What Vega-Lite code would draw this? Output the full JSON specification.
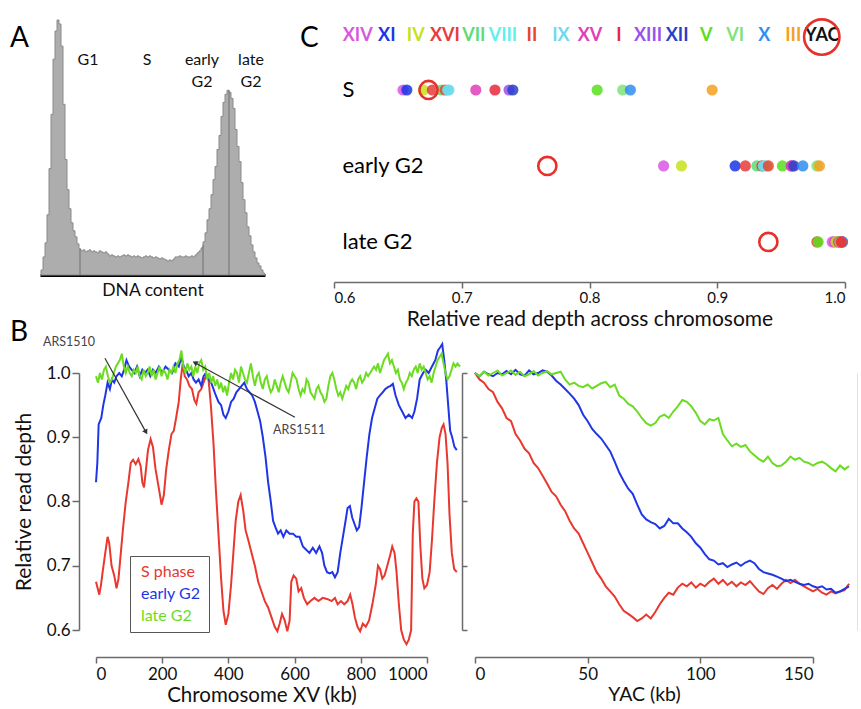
{
"$schema": "https://vega.github.io/schema/vega-lite/v6.json",
"background": "white",
"padding": {"left": 10, "top": 14, "right": 0, "bottom": 0},
"config": {
  "view": {"stroke": null},
  "font": "Lato",
  "axis": {"grid": false, "labelFont": "Lato", "titleFont": "Lato", "labelColor": "#111", "titleColor": "#111", "titleFontWeight": "normal", "domainColor": "#6a6a6a", "tickColor": "#6a6a6a", "domainWidth": 1.5, "tickWidth": 1.5},
  "title": {"font": "Lato", "fontWeight": "normal", "color": "#000"},
  "text": {"font": "Lato"}
},
"datasets": {
  "hist": [
    {"ch":0,"n":0},{"ch":2,"n":5},{"ch":4,"n":18},{"ch":6,"n":32},{"ch":8,"n":60},{"ch":10,"n":106},{"ch":12,"n":160},{"ch":14,"n":215},{"ch":16,"n":243},{"ch":18,"n":254},{"ch":20,"n":250},{"ch":22,"n":228},{"ch":24,"n":170},{"ch":26,"n":115},{"ch":28,"n":85},{"ch":30,"n":66},{"ch":32,"n":52},{"ch":34,"n":44},{"ch":36,"n":38},{"ch":38,"n":31},{"ch":40,"n":26},{"ch":42,"n":24},{"ch":44,"n":25},{"ch":46,"n":23},{"ch":48,"n":24},{"ch":50,"n":25},{"ch":52,"n":23},{"ch":54,"n":24},{"ch":56,"n":23},{"ch":58,"n":22},{"ch":60,"n":24},{"ch":62,"n":23},{"ch":64,"n":22},{"ch":66,"n":23},{"ch":68,"n":21},{"ch":70,"n":19},{"ch":72,"n":20},{"ch":74,"n":19},{"ch":76,"n":18},{"ch":78,"n":19},{"ch":80,"n":18},{"ch":82,"n":19},{"ch":84,"n":20},{"ch":86,"n":19},{"ch":88,"n":20},{"ch":90,"n":19},{"ch":92,"n":18},{"ch":94,"n":19},{"ch":96,"n":18},{"ch":98,"n":19},{"ch":100,"n":18},{"ch":102,"n":17},{"ch":104,"n":18},{"ch":106,"n":19},{"ch":108,"n":18},{"ch":110,"n":19},{"ch":112,"n":18},{"ch":114,"n":17},{"ch":116,"n":18},{"ch":118,"n":17},{"ch":120,"n":16},{"ch":122,"n":17},{"ch":124,"n":16},{"ch":126,"n":15},{"ch":128,"n":14},{"ch":130,"n":15},{"ch":132,"n":14},{"ch":134,"n":16},{"ch":136,"n":18},{"ch":138,"n":18},{"ch":140,"n":19},{"ch":142,"n":18},{"ch":144,"n":18},{"ch":146,"n":19},{"ch":148,"n":18},{"ch":150,"n":18},{"ch":152,"n":19},{"ch":154,"n":18},{"ch":156,"n":20},{"ch":158,"n":22},{"ch":160,"n":24},{"ch":162,"n":27},{"ch":164,"n":33},{"ch":166,"n":42},{"ch":168,"n":55},{"ch":170,"n":66},{"ch":172,"n":80},{"ch":174,"n":95},{"ch":176,"n":108},{"ch":178,"n":125},{"ch":180,"n":139},{"ch":182,"n":158},{"ch":184,"n":172},{"ch":186,"n":180},{"ch":188,"n":184},{"ch":190,"n":182},{"ch":192,"n":176},{"ch":194,"n":166},{"ch":196,"n":145},{"ch":198,"n":128},{"ch":200,"n":113},{"ch":202,"n":92},{"ch":204,"n":75},{"ch":206,"n":62},{"ch":208,"n":48},{"ch":210,"n":39},{"ch":212,"n":30},{"ch":214,"n":23},{"ch":216,"n":17},{"ch":218,"n":12},{"ch":220,"n":9},{"ch":222,"n":5},{"ch":224,"n":2},{"ch":225,"n":0}
  ],
  "gates": [{"ch":40,"n":26},{"ch":163,"n":30},{"ch":189,"n":184}],
  "phases": [
    {"label":"G1","ch":48,"n":222},{"label":"S","ch":107,"n":222},{"label":"early\nG2","ch":162,"n":222},{"label":"late\nG2","ch":211,"n":222}
  ],
  "dots": [
    {"row":"S","chrom":"XIV","v":0.654},{"row":"S","chrom":"XI","v":0.657},{"row":"S","chrom":"IV","v":0.670},{"row":"S","chrom":"XVI","v":0.677},{"row":"S","chrom":"VII","v":0.684},{"row":"S","chrom":"II","v":0.687},{"row":"S","chrom":"VIII","v":0.689},{"row":"S","chrom":"IX","v":0.690},{"row":"S","chrom":"XV","v":0.711},{"row":"S","chrom":"I","v":0.726},{"row":"S","chrom":"XIII","v":0.737},{"row":"S","chrom":"XII","v":0.740},{"row":"S","chrom":"V","v":0.806},{"row":"S","chrom":"VI","v":0.826},{"row":"S","chrom":"X","v":0.832},{"row":"S","chrom":"III","v":0.896},
    {"row":"early G2","chrom":"XIV","v":0.858},{"row":"early G2","chrom":"IV","v":0.872},{"row":"early G2","chrom":"XI","v":0.914},{"row":"early G2","chrom":"XVI","v":0.922},{"row":"early G2","chrom":"VII","v":0.931},{"row":"early G2","chrom":"I","v":0.935},{"row":"early G2","chrom":"VIII","v":0.936},{"row":"early G2","chrom":"IX","v":0.938},{"row":"early G2","chrom":"II","v":0.940},{"row":"early G2","chrom":"V","v":0.951},{"row":"early G2","chrom":"XIII","v":0.958},{"row":"early G2","chrom":"XV","v":0.958},{"row":"early G2","chrom":"XII","v":0.960},{"row":"early G2","chrom":"X","v":0.967},{"row":"early G2","chrom":"VI","v":0.978},{"row":"early G2","chrom":"III","v":0.980},
    {"row":"late G2","chrom":"XVI","v":0.978},{"row":"late G2","chrom":"V","v":0.979},{"row":"late G2","chrom":"XIV","v":0.990},{"row":"late G2","chrom":"XV","v":0.992},{"row":"late G2","chrom":"IV","v":0.993},{"row":"late G2","chrom":"VII","v":0.995},{"row":"late G2","chrom":"VIII","v":0.996},{"row":"late G2","chrom":"II","v":0.995},{"row":"late G2","chrom":"IX","v":0.997},{"row":"late G2","chrom":"XI","v":0.997},{"row":"late G2","chrom":"XIII","v":0.996},{"row":"late G2","chrom":"XII","v":0.998},{"row":"late G2","chrom":"VI","v":0.996},{"row":"late G2","chrom":"X","v":0.998},{"row":"late G2","chrom":"III","v":0.997},{"row":"late G2","chrom":"I","v":0.997}
  ],
  "yacdots": [{"row":"S","chrom":"YAC","v":0.674},{"row":"early G2","chrom":"YAC","v":0.767},{"row":"late G2","chrom":"YAC","v":0.940}],
  "yachead": [{"row":"header","chrom":"YAC"}],
  "arrows": [
    {"label":"ARS1510","k":27,"d":1.023,"k2":151,"d2":0.908},
    {"label":"ARS1511","k":601,"d":0.931,"k2":299,"d2":1.016}
  ],
  "ars": [{"label":"ARS1510","k":-160,"d":1.048},{"label":"ARS1511","k":535,"d":0.911}],
  "left": [
    {"s":"S phase","k":0,"d":0.675},{"s":"S phase","k":5,"d":0.665},{"s":"S phase","k":10,"d":0.655},{"s":"S phase","k":15,"d":0.67},{"s":"S phase","k":20,"d":0.69},{"s":"S phase","k":28,"d":0.72},{"s":"S phase","k":35,"d":0.745},{"s":"S phase","k":40,"d":0.735},{"s":"S phase","k":47,"d":0.70},{"s":"S phase","k":55,"d":0.685},{"s":"S phase","k":62,"d":0.665},{"s":"S phase","k":68,"d":0.68},{"s":"S phase","k":75,"d":0.72},{"s":"S phase","k":82,"d":0.76},{"s":"S phase","k":90,"d":0.80},{"s":"S phase","k":98,"d":0.83},{"s":"S phase","k":105,"d":0.86},{"s":"S phase","k":112,"d":0.865},{"s":"S phase","k":120,"d":0.858},{"s":"S phase","k":128,"d":0.866},{"s":"S phase","k":135,"d":0.855},{"s":"S phase","k":140,"d":0.83},{"s":"S phase","k":145,"d":0.822},{"s":"S phase","k":150,"d":0.845},{"s":"S phase","k":157,"d":0.88},{"s":"S phase","k":165,"d":0.897},{"s":"S phase","k":172,"d":0.885},{"s":"S phase","k":180,"d":0.85},{"s":"S phase","k":190,"d":0.82},{"s":"S phase","k":198,"d":0.795},{"s":"S phase","k":205,"d":0.81},{"s":"S phase","k":212,"d":0.85},{"s":"S phase","k":220,"d":0.88},{"s":"S phase","k":228,"d":0.905},{"s":"S phase","k":235,"d":0.91},{"s":"S phase","k":242,"d":0.93},{"s":"S phase","k":250,"d":0.955},{"s":"S phase","k":256,"d":0.99},{"s":"S phase","k":262,"d":1.015},{"s":"S phase","k":268,"d":0.995},{"s":"S phase","k":275,"d":0.99},{"s":"S phase","k":282,"d":0.98},{"s":"S phase","k":290,"d":0.975},{"s":"S phase","k":297,"d":0.958},{"s":"S phase","k":303,"d":0.952},{"s":"S phase","k":310,"d":0.97},{"s":"S phase","k":318,"d":0.975},{"s":"S phase","k":325,"d":0.985},{"s":"S phase","k":332,"d":0.995},{"s":"S phase","k":340,"d":0.99},{"s":"S phase","k":347,"d":0.95},{"s":"S phase","k":355,"d":0.89},{"s":"S phase","k":362,"d":0.82},{"s":"S phase","k":370,"d":0.75},{"s":"S phase","k":378,"d":0.68},{"s":"S phase","k":385,"d":0.63},{"s":"S phase","k":392,"d":0.608},{"s":"S phase","k":400,"d":0.625},{"s":"S phase","k":408,"d":0.67},{"s":"S phase","k":415,"d":0.72},{"s":"S phase","k":422,"d":0.77},{"s":"S phase","k":430,"d":0.80},{"s":"S phase","k":437,"d":0.81},{"s":"S phase","k":445,"d":0.785},{"s":"S phase","k":452,"d":0.755},{"s":"S phase","k":460,"d":0.74},{"s":"S phase","k":470,"d":0.72},{"s":"S phase","k":480,"d":0.70},{"s":"S phase","k":490,"d":0.675},{"s":"S phase","k":500,"d":0.66},{"s":"S phase","k":510,"d":0.645},{"s":"S phase","k":520,"d":0.635},{"s":"S phase","k":530,"d":0.62},{"s":"S phase","k":540,"d":0.605},{"s":"S phase","k":548,"d":0.598},{"s":"S phase","k":555,"d":0.61},{"s":"S phase","k":562,"d":0.625},{"s":"S phase","k":570,"d":0.615},{"s":"S phase","k":578,"d":0.598},{"s":"S phase","k":585,"d":0.615},{"s":"S phase","k":590,"d":0.675},{"s":"S phase","k":597,"d":0.685},{"s":"S phase","k":605,"d":0.68},{"s":"S phase","k":612,"d":0.66},{"s":"S phase","k":620,"d":0.665},{"s":"S phase","k":628,"d":0.65},{"s":"S phase","k":638,"d":0.64},{"s":"S phase","k":648,"d":0.645},{"s":"S phase","k":660,"d":0.65},{"s":"S phase","k":672,"d":0.645},{"s":"S phase","k":685,"d":0.65},{"s":"S phase","k":700,"d":0.648},{"s":"S phase","k":712,"d":0.645},{"s":"S phase","k":722,"d":0.65},{"s":"S phase","k":730,"d":0.64},{"s":"S phase","k":740,"d":0.645},{"s":"S phase","k":750,"d":0.64},{"s":"S phase","k":760,"d":0.645},{"s":"S phase","k":768,"d":0.655},{"s":"S phase","k":775,"d":0.64},{"s":"S phase","k":782,"d":0.62},{"s":"S phase","k":790,"d":0.605},{"s":"S phase","k":798,"d":0.598},{"s":"S phase","k":806,"d":0.61},{"s":"S phase","k":815,"d":0.605},{"s":"S phase","k":825,"d":0.615},{"s":"S phase","k":835,"d":0.64},{"s":"S phase","k":845,"d":0.67},{"s":"S phase","k":852,"d":0.70},{"s":"S phase","k":858,"d":0.695},{"s":"S phase","k":865,"d":0.68},{"s":"S phase","k":872,"d":0.685},{"s":"S phase","k":880,"d":0.70},{"s":"S phase","k":888,"d":0.715},{"s":"S phase","k":895,"d":0.73},{"s":"S phase","k":902,"d":0.72},{"s":"S phase","k":908,"d":0.69},{"s":"S phase","k":915,"d":0.64},{"s":"S phase","k":922,"d":0.60},{"s":"S phase","k":930,"d":0.585},{"s":"S phase","k":938,"d":0.578},{"s":"S phase","k":945,"d":0.585},{"s":"S phase","k":952,"d":0.60},{"s":"S phase","k":957,"d":0.75},{"s":"S phase","k":962,"d":0.80},{"s":"S phase","k":968,"d":0.805},{"s":"S phase","k":974,"d":0.80},{"s":"S phase","k":980,"d":0.73},{"s":"S phase","k":986,"d":0.68},{"s":"S phase","k":992,"d":0.665},{"s":"S phase","k":1000,"d":0.67},{"s":"S phase","k":1008,"d":0.69},{"s":"S phase","k":1015,"d":0.74},{"s":"S phase","k":1022,"d":0.80},{"s":"S phase","k":1030,"d":0.86},{"s":"S phase","k":1038,"d":0.90},{"s":"S phase","k":1045,"d":0.915},{"s":"S phase","k":1050,"d":0.92},{"s":"S phase","k":1056,"d":0.905},{"s":"S phase","k":1062,"d":0.86},{"s":"S phase","k":1068,"d":0.78},{"s":"S phase","k":1075,"d":0.72},{"s":"S phase","k":1082,"d":0.695},{"s":"S phase","k":1090,"d":0.69},
    {"s":"early G2","k":0,"d":0.83},{"s":"early G2","k":4,"d":0.86},{"s":"early G2","k":8,"d":0.92},{"s":"early G2","k":12,"d":0.925},{"s":"early G2","k":16,"d":0.93},{"s":"early G2","k":22,"d":0.95},{"s":"early G2","k":28,"d":0.965},{"s":"early G2","k":35,"d":0.985},{"s":"early G2","k":42,"d":0.975},{"s":"early G2","k":48,"d":0.99},{"s":"early G2","k":55,"d":0.985},{"s":"early G2","k":62,"d":0.995},{"s":"early G2","k":70,"d":1.0},{"s":"early G2","k":78,"d":0.995},{"s":"early G2","k":85,"d":1.005},{"s":"early G2","k":92,"d":1.02},{"s":"early G2","k":100,"d":1.01},{"s":"early G2","k":108,"d":1.005},{"s":"early G2","k":116,"d":1.0},{"s":"early G2","k":124,"d":1.01},{"s":"early G2","k":132,"d":0.995},{"s":"early G2","k":140,"d":1.005},{"s":"early G2","k":148,"d":1.0},{"s":"early G2","k":156,"d":1.005},{"s":"early G2","k":164,"d":0.995},{"s":"early G2","k":172,"d":1.005},{"s":"early G2","k":180,"d":1.0},{"s":"early G2","k":190,"d":1.01},{"s":"early G2","k":200,"d":1.0},{"s":"early G2","k":210,"d":1.01},{"s":"early G2","k":220,"d":1.005},{"s":"early G2","k":230,"d":1.0},{"s":"early G2","k":240,"d":1.015},{"s":"early G2","k":250,"d":1.01},{"s":"early G2","k":258,"d":1.025},{"s":"early G2","k":265,"d":1.01},{"s":"early G2","k":272,"d":1.005},{"s":"early G2","k":280,"d":0.995},{"s":"early G2","k":288,"d":1.0},{"s":"early G2","k":295,"d":0.99},{"s":"early G2","k":302,"d":0.985},{"s":"early G2","k":310,"d":0.99},{"s":"early G2","k":318,"d":0.98},{"s":"early G2","k":325,"d":0.995},{"s":"early G2","k":332,"d":1.0},{"s":"early G2","k":340,"d":0.99},{"s":"early G2","k":348,"d":0.985},{"s":"early G2","k":355,"d":0.975},{"s":"early G2","k":362,"d":0.965},{"s":"early G2","k":370,"d":0.955},{"s":"early G2","k":378,"d":0.95},{"s":"early G2","k":385,"d":0.935},{"s":"early G2","k":392,"d":0.93},{"s":"early G2","k":400,"d":0.94},{"s":"early G2","k":408,"d":0.955},{"s":"early G2","k":416,"d":0.96},{"s":"early G2","k":424,"d":0.97},{"s":"early G2","k":432,"d":0.975},{"s":"early G2","k":440,"d":0.98},{"s":"early G2","k":448,"d":0.985},{"s":"early G2","k":456,"d":0.975},{"s":"early G2","k":464,"d":0.97},{"s":"early G2","k":472,"d":0.965},{"s":"early G2","k":480,"d":0.955},{"s":"early G2","k":488,"d":0.94},{"s":"early G2","k":496,"d":0.925},{"s":"early G2","k":504,"d":0.9},{"s":"early G2","k":512,"d":0.87},{"s":"early G2","k":520,"d":0.83},{"s":"early G2","k":528,"d":0.8},{"s":"early G2","k":535,"d":0.77},{"s":"early G2","k":542,"d":0.76},{"s":"early G2","k":550,"d":0.75},{"s":"early G2","k":558,"d":0.755},{"s":"early G2","k":566,"d":0.745},{"s":"early G2","k":575,"d":0.755},{"s":"early G2","k":585,"d":0.75},{"s":"early G2","k":595,"d":0.75},{"s":"early G2","k":605,"d":0.745},{"s":"early G2","k":615,"d":0.745},{"s":"early G2","k":625,"d":0.73},{"s":"early G2","k":635,"d":0.725},{"s":"early G2","k":645,"d":0.72},{"s":"early G2","k":655,"d":0.728},{"s":"early G2","k":665,"d":0.72},{"s":"early G2","k":675,"d":0.73},{"s":"early G2","k":683,"d":0.72},{"s":"early G2","k":690,"d":0.70},{"s":"early G2","k":698,"d":0.69},{"s":"early G2","k":706,"d":0.688},{"s":"early G2","k":714,"d":0.69},{"s":"early G2","k":722,"d":0.682},{"s":"early G2","k":730,"d":0.69},{"s":"early G2","k":738,"d":0.72},{"s":"early G2","k":746,"d":0.745},{"s":"early G2","k":754,"d":0.77},{"s":"early G2","k":760,"d":0.79},{"s":"early G2","k":767,"d":0.793},{"s":"early G2","k":774,"d":0.775},{"s":"early G2","k":781,"d":0.765},{"s":"early G2","k":788,"d":0.755},{"s":"early G2","k":795,"d":0.76},{"s":"early G2","k":802,"d":0.79},{"s":"early G2","k":810,"d":0.83},{"s":"early G2","k":818,"d":0.87},{"s":"early G2","k":826,"d":0.905},{"s":"early G2","k":834,"d":0.93},{"s":"early G2","k":842,"d":0.945},{"s":"early G2","k":850,"d":0.96},{"s":"early G2","k":858,"d":0.965},{"s":"early G2","k":866,"d":0.97},{"s":"early G2","k":874,"d":0.975},{"s":"early G2","k":882,"d":0.978},{"s":"early G2","k":890,"d":0.98},{"s":"early G2","k":897,"d":0.983},{"s":"early G2","k":905,"d":0.965},{"s":"early G2","k":915,"d":0.95},{"s":"early G2","k":925,"d":0.94},{"s":"early G2","k":935,"d":0.93},{"s":"early G2","k":945,"d":0.935},{"s":"early G2","k":955,"d":0.93},{"s":"early G2","k":962,"d":0.94},{"s":"early G2","k":970,"d":0.96},{"s":"early G2","k":978,"d":0.99},{"s":"early G2","k":988,"d":1.0},{"s":"early G2","k":996,"d":1.005},{"s":"early G2","k":1005,"d":1.0},{"s":"early G2","k":1015,"d":1.01},{"s":"early G2","k":1025,"d":1.02},{"s":"early G2","k":1033,"d":1.035},{"s":"early G2","k":1040,"d":1.04},{"s":"early G2","k":1046,"d":1.045},{"s":"early G2","k":1052,"d":1.02},{"s":"early G2","k":1058,"d":0.99},{"s":"early G2","k":1064,"d":0.95},{"s":"early G2","k":1070,"d":0.91},{"s":"early G2","k":1076,"d":0.90},{"s":"early G2","k":1083,"d":0.885},{"s":"early G2","k":1090,"d":0.88},
    {"s":"late G2","k":0,"d":0.995},{"s":"late G2","k":6,"d":0.985},{"s":"late G2","k":12,"d":1.0},{"s":"late G2","k":18,"d":0.99},{"s":"late G2","k":24,"d":1.005},{"s":"late G2","k":30,"d":1.01},{"s":"late G2","k":36,"d":0.995},{"s":"late G2","k":42,"d":0.985},{"s":"late G2","k":48,"d":0.99},{"s":"late G2","k":54,"d":1.0},{"s":"late G2","k":60,"d":1.01},{"s":"late G2","k":66,"d":1.015},{"s":"late G2","k":72,"d":1.02},{"s":"late G2","k":78,"d":1.03},{"s":"late G2","k":84,"d":1.01},{"s":"late G2","k":90,"d":1.0},{"s":"late G2","k":96,"d":1.01},{"s":"late G2","k":102,"d":1.0},{"s":"late G2","k":108,"d":0.995},{"s":"late G2","k":114,"d":1.005},{"s":"late G2","k":120,"d":1.0},{"s":"late G2","k":126,"d":1.01},{"s":"late G2","k":132,"d":0.995},{"s":"late G2","k":138,"d":0.99},{"s":"late G2","k":144,"d":1.005},{"s":"late G2","k":150,"d":0.995},{"s":"late G2","k":156,"d":1.0},{"s":"late G2","k":162,"d":1.01},{"s":"late G2","k":168,"d":0.995},{"s":"late G2","k":174,"d":1.005},{"s":"late G2","k":180,"d":0.99},{"s":"late G2","k":186,"d":1.0},{"s":"late G2","k":192,"d":1.01},{"s":"late G2","k":198,"d":0.995},{"s":"late G2","k":204,"d":1.005},{"s":"late G2","k":210,"d":1.0},{"s":"late G2","k":216,"d":0.99},{"s":"late G2","k":222,"d":1.005},{"s":"late G2","k":228,"d":1.0},{"s":"late G2","k":234,"d":1.01},{"s":"late G2","k":240,"d":1.0},{"s":"late G2","k":246,"d":1.015},{"s":"late G2","k":252,"d":1.02},{"s":"late G2","k":258,"d":1.035},{"s":"late G2","k":264,"d":1.01},{"s":"late G2","k":270,"d":1.0},{"s":"late G2","k":276,"d":1.015},{"s":"late G2","k":282,"d":1.005},{"s":"late G2","k":288,"d":1.01},{"s":"late G2","k":294,"d":0.995},{"s":"late G2","k":300,"d":1.01},{"s":"late G2","k":306,"d":1.0},{"s":"late G2","k":312,"d":1.015},{"s":"late G2","k":318,"d":1.02},{"s":"late G2","k":324,"d":1.005},{"s":"late G2","k":330,"d":1.01},{"s":"late G2","k":336,"d":0.99},{"s":"late G2","k":342,"d":1.0},{"s":"late G2","k":348,"d":0.985},{"s":"late G2","k":354,"d":0.995},{"s":"late G2","k":360,"d":0.98},{"s":"late G2","k":366,"d":0.99},{"s":"late G2","k":372,"d":0.975},{"s":"late G2","k":378,"d":0.985},{"s":"late G2","k":384,"d":0.97},{"s":"late G2","k":390,"d":0.98},{"s":"late G2","k":396,"d":0.965},{"s":"late G2","k":402,"d":0.985},{"s":"late G2","k":408,"d":1.0},{"s":"late G2","k":414,"d":0.99},{"s":"late G2","k":420,"d":1.005},{"s":"late G2","k":426,"d":1.0},{"s":"late G2","k":432,"d":0.985},{"s":"late G2","k":438,"d":1.01},{"s":"late G2","k":444,"d":1.0},{"s":"late G2","k":450,"d":0.99},{"s":"late G2","k":456,"d":0.985},{"s":"late G2","k":462,"d":1.0},{"s":"late G2","k":468,"d":1.015},{"s":"late G2","k":474,"d":0.995},{"s":"late G2","k":480,"d":0.98},{"s":"late G2","k":486,"d":0.995},{"s":"late G2","k":492,"d":1.0},{"s":"late G2","k":498,"d":0.985},{"s":"late G2","k":504,"d":0.975},{"s":"late G2","k":510,"d":0.99},{"s":"late G2","k":516,"d":0.995},{"s":"late G2","k":522,"d":0.98},{"s":"late G2","k":528,"d":0.97},{"s":"late G2","k":534,"d":0.975},{"s":"late G2","k":540,"d":0.99},{"s":"late G2","k":546,"d":0.98},{"s":"late G2","k":552,"d":0.97},{"s":"late G2","k":558,"d":0.985},{"s":"late G2","k":564,"d":0.995},{"s":"late G2","k":570,"d":0.985},{"s":"late G2","k":576,"d":0.975},{"s":"late G2","k":582,"d":0.97},{"s":"late G2","k":588,"d":0.985},{"s":"late G2","k":594,"d":1.0},{"s":"late G2","k":600,"d":0.995},{"s":"late G2","k":606,"d":0.99},{"s":"late G2","k":612,"d":0.975},{"s":"late G2","k":618,"d":0.965},{"s":"late G2","k":624,"d":0.975},{"s":"late G2","k":630,"d":0.97},{"s":"late G2","k":636,"d":0.99},{"s":"late G2","k":642,"d":0.985},{"s":"late G2","k":648,"d":0.97},{"s":"late G2","k":654,"d":0.965},{"s":"late G2","k":660,"d":0.96},{"s":"late G2","k":666,"d":0.975},{"s":"late G2","k":672,"d":0.98},{"s":"late G2","k":678,"d":0.97},{"s":"late G2","k":684,"d":0.965},{"s":"late G2","k":690,"d":0.955},{"s":"late G2","k":696,"d":0.96},{"s":"late G2","k":702,"d":0.98},{"s":"late G2","k":708,"d":0.995},{"s":"late G2","k":714,"d":1.0},{"s":"late G2","k":720,"d":0.99},{"s":"late G2","k":726,"d":0.975},{"s":"late G2","k":732,"d":0.965},{"s":"late G2","k":738,"d":0.97},{"s":"late G2","k":744,"d":0.96},{"s":"late G2","k":750,"d":0.97},{"s":"late G2","k":756,"d":0.98},{"s":"late G2","k":762,"d":0.975},{"s":"late G2","k":768,"d":0.985},{"s":"late G2","k":774,"d":0.99},{"s":"late G2","k":780,"d":0.985},{"s":"late G2","k":786,"d":0.975},{"s":"late G2","k":792,"d":0.99},{"s":"late G2","k":798,"d":0.995},{"s":"late G2","k":804,"d":0.985},{"s":"late G2","k":810,"d":0.99},{"s":"late G2","k":816,"d":1.0},{"s":"late G2","k":822,"d":0.995},{"s":"late G2","k":828,"d":1.0},{"s":"late G2","k":834,"d":1.005},{"s":"late G2","k":840,"d":1.01},{"s":"late G2","k":846,"d":1.005},{"s":"late G2","k":852,"d":1.015},{"s":"late G2","k":858,"d":1.0},{"s":"late G2","k":864,"d":1.01},{"s":"late G2","k":870,"d":1.02},{"s":"late G2","k":876,"d":1.025},{"s":"late G2","k":882,"d":1.03},{"s":"late G2","k":888,"d":1.015},{"s":"late G2","k":894,"d":1.02},{"s":"late G2","k":900,"d":1.01},{"s":"late G2","k":906,"d":1.0},{"s":"late G2","k":912,"d":1.005},{"s":"late G2","k":918,"d":0.99},{"s":"late G2","k":924,"d":0.985},{"s":"late G2","k":930,"d":0.975},{"s":"late G2","k":936,"d":0.985},{"s":"late G2","k":942,"d":0.99},{"s":"late G2","k":948,"d":1.0},{"s":"late G2","k":954,"d":0.995},{"s":"late G2","k":960,"d":1.005},{"s":"late G2","k":966,"d":1.01},{"s":"late G2","k":972,"d":1.0},{"s":"late G2","k":978,"d":1.015},{"s":"late G2","k":984,"d":1.005},{"s":"late G2","k":990,"d":1.01},{"s":"late G2","k":996,"d":1.0},{"s":"late G2","k":1002,"d":0.99},{"s":"late G2","k":1008,"d":0.995},{"s":"late G2","k":1014,"d":0.985},{"s":"late G2","k":1020,"d":1.0},{"s":"late G2","k":1026,"d":1.01},{"s":"late G2","k":1032,"d":1.02},{"s":"late G2","k":1038,"d":1.025},{"s":"late G2","k":1044,"d":1.03},{"s":"late G2","k":1050,"d":1.015},{"s":"late G2","k":1056,"d":1.0},{"s":"late G2","k":1062,"d":0.99},{"s":"late G2","k":1068,"d":0.995},{"s":"late G2","k":1074,"d":1.005},{"s":"late G2","k":1080,"d":1.015},{"s":"late G2","k":1086,"d":1.01},{"s":"late G2","k":1092,"d":1.015},{"s":"late G2","k":1100,"d":1.01}
  ],
  "right": [
    {"s":"S phase","k":0,"d":1.0},{"s":"S phase","k":2,"d":0.99},{"s":"S phase","k":4,"d":0.985},{"s":"S phase","k":6,"d":0.975},{"s":"S phase","k":8,"d":0.97},{"s":"S phase","k":10,"d":0.955},{"s":"S phase","k":12,"d":0.945},{"s":"S phase","k":14,"d":0.93},{"s":"S phase","k":16,"d":0.925},{"s":"S phase","k":18,"d":0.905},{"s":"S phase","k":20,"d":0.895},{"s":"S phase","k":22,"d":0.882},{"s":"S phase","k":24,"d":0.875},{"s":"S phase","k":26,"d":0.86},{"s":"S phase","k":28,"d":0.852},{"s":"S phase","k":30,"d":0.84},{"s":"S phase","k":32,"d":0.828},{"s":"S phase","k":34,"d":0.815},{"s":"S phase","k":36,"d":0.808},{"s":"S phase","k":38,"d":0.795},{"s":"S phase","k":40,"d":0.785},{"s":"S phase","k":42,"d":0.77},{"s":"S phase","k":44,"d":0.758},{"s":"S phase","k":46,"d":0.75},{"s":"S phase","k":48,"d":0.735},{"s":"S phase","k":50,"d":0.72},{"s":"S phase","k":52,"d":0.705},{"s":"S phase","k":54,"d":0.69},{"s":"S phase","k":56,"d":0.68},{"s":"S phase","k":58,"d":0.668},{"s":"S phase","k":60,"d":0.66},{"s":"S phase","k":62,"d":0.652},{"s":"S phase","k":64,"d":0.64},{"s":"S phase","k":66,"d":0.63},{"s":"S phase","k":68,"d":0.625},{"s":"S phase","k":70,"d":0.62},{"s":"S phase","k":72,"d":0.614},{"s":"S phase","k":74,"d":0.618},{"s":"S phase","k":76,"d":0.624},{"s":"S phase","k":78,"d":0.618},{"s":"S phase","k":80,"d":0.628},{"s":"S phase","k":82,"d":0.64},{"s":"S phase","k":84,"d":0.65},{"s":"S phase","k":86,"d":0.658},{"s":"S phase","k":88,"d":0.655},{"s":"S phase","k":90,"d":0.666},{"s":"S phase","k":92,"d":0.672},{"s":"S phase","k":94,"d":0.668},{"s":"S phase","k":96,"d":0.674},{"s":"S phase","k":98,"d":0.666},{"s":"S phase","k":100,"d":0.672},{"s":"S phase","k":102,"d":0.668},{"s":"S phase","k":104,"d":0.675},{"s":"S phase","k":106,"d":0.68},{"s":"S phase","k":108,"d":0.672},{"s":"S phase","k":110,"d":0.678},{"s":"S phase","k":112,"d":0.67},{"s":"S phase","k":114,"d":0.675},{"s":"S phase","k":116,"d":0.668},{"s":"S phase","k":118,"d":0.674},{"s":"S phase","k":120,"d":0.67},{"s":"S phase","k":122,"d":0.676},{"s":"S phase","k":124,"d":0.668},{"s":"S phase","k":126,"d":0.66},{"s":"S phase","k":128,"d":0.656},{"s":"S phase","k":130,"d":0.665},{"s":"S phase","k":132,"d":0.67},{"s":"S phase","k":134,"d":0.664},{"s":"S phase","k":136,"d":0.672},{"s":"S phase","k":138,"d":0.678},{"s":"S phase","k":140,"d":0.673},{"s":"S phase","k":142,"d":0.678},{"s":"S phase","k":144,"d":0.672},{"s":"S phase","k":146,"d":0.668},{"s":"S phase","k":148,"d":0.664},{"s":"S phase","k":150,"d":0.66},{"s":"S phase","k":152,"d":0.664},{"s":"S phase","k":154,"d":0.658},{"s":"S phase","k":156,"d":0.655},{"s":"S phase","k":158,"d":0.66},{"s":"S phase","k":160,"d":0.657},{"s":"S phase","k":162,"d":0.66},{"s":"S phase","k":164,"d":0.662},{"s":"S phase","k":166,"d":0.672},
    {"s":"early G2","k":0,"d":1.0},{"s":"early G2","k":2,"d":0.995},{"s":"early G2","k":4,"d":1.002},{"s":"early G2","k":6,"d":0.998},{"s":"early G2","k":8,"d":0.995},{"s":"early G2","k":10,"d":1.0},{"s":"early G2","k":12,"d":0.998},{"s":"early G2","k":14,"d":1.003},{"s":"early G2","k":16,"d":0.998},{"s":"early G2","k":18,"d":1.005},{"s":"early G2","k":20,"d":0.998},{"s":"early G2","k":22,"d":0.996},{"s":"early G2","k":24,"d":1.004},{"s":"early G2","k":26,"d":0.998},{"s":"early G2","k":28,"d":1.0},{"s":"early G2","k":30,"d":1.004},{"s":"early G2","k":32,"d":1.002},{"s":"early G2","k":34,"d":0.996},{"s":"early G2","k":36,"d":0.988},{"s":"early G2","k":38,"d":0.982},{"s":"early G2","k":40,"d":0.975},{"s":"early G2","k":42,"d":0.968},{"s":"early G2","k":44,"d":0.96},{"s":"early G2","k":46,"d":0.95},{"s":"early G2","k":48,"d":0.935},{"s":"early G2","k":50,"d":0.925},{"s":"early G2","k":52,"d":0.913},{"s":"early G2","k":54,"d":0.905},{"s":"early G2","k":56,"d":0.898},{"s":"early G2","k":58,"d":0.888},{"s":"early G2","k":60,"d":0.878},{"s":"early G2","k":62,"d":0.862},{"s":"early G2","k":64,"d":0.845},{"s":"early G2","k":66,"d":0.832},{"s":"early G2","k":68,"d":0.82},{"s":"early G2","k":70,"d":0.812},{"s":"early G2","k":72,"d":0.795},{"s":"early G2","k":74,"d":0.78},{"s":"early G2","k":76,"d":0.772},{"s":"early G2","k":78,"d":0.768},{"s":"early G2","k":80,"d":0.765},{"s":"early G2","k":82,"d":0.758},{"s":"early G2","k":84,"d":0.762},{"s":"early G2","k":86,"d":0.773},{"s":"early G2","k":88,"d":0.766},{"s":"early G2","k":90,"d":0.766},{"s":"early G2","k":92,"d":0.758},{"s":"early G2","k":94,"d":0.752},{"s":"early G2","k":96,"d":0.745},{"s":"early G2","k":98,"d":0.735},{"s":"early G2","k":100,"d":0.728},{"s":"early G2","k":102,"d":0.718},{"s":"early G2","k":104,"d":0.71},{"s":"early G2","k":106,"d":0.708},{"s":"early G2","k":108,"d":0.702},{"s":"early G2","k":110,"d":0.704},{"s":"early G2","k":112,"d":0.698},{"s":"early G2","k":114,"d":0.702},{"s":"early G2","k":116,"d":0.705},{"s":"early G2","k":118,"d":0.7},{"s":"early G2","k":120,"d":0.705},{"s":"early G2","k":122,"d":0.708},{"s":"early G2","k":124,"d":0.704},{"s":"early G2","k":126,"d":0.695},{"s":"early G2","k":128,"d":0.69},{"s":"early G2","k":130,"d":0.688},{"s":"early G2","k":132,"d":0.686},{"s":"early G2","k":134,"d":0.683},{"s":"early G2","k":136,"d":0.68},{"s":"early G2","k":138,"d":0.676},{"s":"early G2","k":140,"d":0.678},{"s":"early G2","k":142,"d":0.675},{"s":"early G2","k":144,"d":0.672},{"s":"early G2","k":146,"d":0.67},{"s":"early G2","k":148,"d":0.672},{"s":"early G2","k":150,"d":0.668},{"s":"early G2","k":152,"d":0.666},{"s":"early G2","k":154,"d":0.668},{"s":"early G2","k":156,"d":0.663},{"s":"early G2","k":158,"d":0.664},{"s":"early G2","k":160,"d":0.658},{"s":"early G2","k":162,"d":0.66},{"s":"early G2","k":164,"d":0.664},{"s":"early G2","k":166,"d":0.668},
    {"s":"late G2","k":0,"d":1.0},{"s":"late G2","k":2,"d":0.995},{"s":"late G2","k":4,"d":1.002},{"s":"late G2","k":6,"d":0.996},{"s":"late G2","k":8,"d":1.0},{"s":"late G2","k":10,"d":1.004},{"s":"late G2","k":12,"d":0.996},{"s":"late G2","k":14,"d":1.0},{"s":"late G2","k":16,"d":1.004},{"s":"late G2","k":18,"d":0.997},{"s":"late G2","k":20,"d":1.002},{"s":"late G2","k":22,"d":0.995},{"s":"late G2","k":24,"d":0.998},{"s":"late G2","k":26,"d":1.003},{"s":"late G2","k":28,"d":0.996},{"s":"late G2","k":30,"d":1.0},{"s":"late G2","k":32,"d":1.003},{"s":"late G2","k":34,"d":0.998},{"s":"late G2","k":36,"d":1.0},{"s":"late G2","k":38,"d":1.002},{"s":"late G2","k":40,"d":0.99},{"s":"late G2","k":42,"d":0.982},{"s":"late G2","k":44,"d":0.985},{"s":"late G2","k":46,"d":0.98},{"s":"late G2","k":48,"d":0.978},{"s":"late G2","k":50,"d":0.982},{"s":"late G2","k":52,"d":0.976},{"s":"late G2","k":54,"d":0.98},{"s":"late G2","k":56,"d":0.984},{"s":"late G2","k":58,"d":0.986},{"s":"late G2","k":60,"d":0.978},{"s":"late G2","k":62,"d":0.982},{"s":"late G2","k":64,"d":0.965},{"s":"late G2","k":66,"d":0.96},{"s":"late G2","k":68,"d":0.952},{"s":"late G2","k":70,"d":0.948},{"s":"late G2","k":72,"d":0.94},{"s":"late G2","k":74,"d":0.93},{"s":"late G2","k":76,"d":0.922},{"s":"late G2","k":78,"d":0.918},{"s":"late G2","k":80,"d":0.922},{"s":"late G2","k":82,"d":0.932},{"s":"late G2","k":84,"d":0.935},{"s":"late G2","k":86,"d":0.93},{"s":"late G2","k":88,"d":0.94},{"s":"late G2","k":90,"d":0.948},{"s":"late G2","k":92,"d":0.958},{"s":"late G2","k":94,"d":0.955},{"s":"late G2","k":96,"d":0.948},{"s":"late G2","k":98,"d":0.938},{"s":"late G2","k":100,"d":0.925},{"s":"late G2","k":102,"d":0.92},{"s":"late G2","k":104,"d":0.928},{"s":"late G2","k":106,"d":0.926},{"s":"late G2","k":108,"d":0.93},{"s":"late G2","k":110,"d":0.905},{"s":"late G2","k":112,"d":0.895},{"s":"late G2","k":114,"d":0.886},{"s":"late G2","k":116,"d":0.89},{"s":"late G2","k":118,"d":0.885},{"s":"late G2","k":120,"d":0.888},{"s":"late G2","k":122,"d":0.878},{"s":"late G2","k":124,"d":0.872},{"s":"late G2","k":126,"d":0.866},{"s":"late G2","k":128,"d":0.862},{"s":"late G2","k":130,"d":0.87},{"s":"late G2","k":132,"d":0.86},{"s":"late G2","k":134,"d":0.855},{"s":"late G2","k":136,"d":0.856},{"s":"late G2","k":138,"d":0.862},{"s":"late G2","k":140,"d":0.87},{"s":"late G2","k":142,"d":0.865},{"s":"late G2","k":144,"d":0.868},{"s":"late G2","k":146,"d":0.862},{"s":"late G2","k":148,"d":0.86},{"s":"late G2","k":150,"d":0.856},{"s":"late G2","k":152,"d":0.86},{"s":"late G2","k":154,"d":0.862},{"s":"late G2","k":156,"d":0.858},{"s":"late G2","k":158,"d":0.852},{"s":"late G2","k":160,"d":0.847},{"s":"late G2","k":162,"d":0.856},{"s":"late G2","k":164,"d":0.85},{"s":"late G2","k":166,"d":0.855}
  ]
},
"concat": [
  {
    "hconcat": [
      {
        "width": 225, "height": 255,
        "title": {"text": "A", "anchor": "start", "frame": "group", "fontSize": 28, "dx": -30, "dy": 39},
        "layer": [
          {
            "data": {"name": "hist"},
            "mark": {"type": "area", "interpolate": "step", "color": "#adadad", "stroke": "#8a8a8a", "strokeWidth": 1},
            "encoding": {
              "x": {"field": "ch", "type": "quantitative", "scale": {"domain": [0, 225], "nice": false, "zero": false},
                    "axis": {"domainColor": "#000", "domainWidth": 3, "ticks": false, "labels": false, "title": "DNA content", "titleFontSize": 17.5, "titlePadding": 6}},
              "y": {"field": "n", "type": "quantitative", "scale": {"domain": [0, 254], "nice": false}, "axis": null}
            }
          },
          {
            "data": {"name": "gates"},
            "mark": {"type": "rule", "color": "#6e6e6e", "strokeWidth": 1},
            "encoding": {
              "x": {"field": "ch", "type": "quantitative"},
              "y": {"field": "n", "type": "quantitative"},
              "y2": {"datum": 0}
            }
          },
          {
            "data": {"name": "phases"},
            "mark": {"type": "text", "fontSize": 16, "lineBreak": "\n", "baseline": "top", "align": "center", "lineHeight": 22, "color": "#111"},
            "encoding": {
              "x": {"field": "ch", "type": "quantitative"},
              "y": {"field": "n", "type": "quantitative"},
              "text": {"field": "label"}
            }
          }
        ]
      },
      {
        "width": 511, "height": 262,
        "title": {"text": "C", "anchor": "start", "frame": "group", "fontSize": 28, "dx": -34, "dy": 43},
        "resolve": {"scale": {"x": "independent", "y": "independent"}, "axis": {"x": "independent", "y": "independent"}},
        "layer": [
          {
            "layer": [
              {
                "data": {"name": "dots"},
                "mark": {"type": "circle", "size": 125, "opacity": 0.85},
                "encoding": {
                  "x": {"field": "v", "type": "quantitative", "scale": {"domain": [0.6, 1.0], "nice": false, "zero": false},
                        "axis": {"orient": "bottom", "values": [0.6, 0.7, 0.8, 0.9, 1.0], "format": ".1f", "tickSize": 6, "labelFontSize": 15, "labelPadding": 2, "title": "Relative read depth across chromosome", "titleFontSize": 21, "titlePadding": 3}},
                  "y": {"field": "row", "type": "nominal", "scale": {"type": "point", "domain": ["S", "early G2", "late G2"], "padding": 0.724, "align": 0.636},
                        "axis": {"orient": "left", "domain": false, "ticks": false, "tickSize": 0, "labelAlign": "left", "labelPadding": -8, "labelFontSize": 22, "labelColor": "#000", "title": null}},
                  "color": {"field": "chrom", "type": "nominal",
                            "scale": {"domain": ["XIV","XI","IV","XVI","VII","VIII","II","IX","XV","I","XIII","XII","V","VI","X","III"],
                                      "range": ["#d957e0","#1a35e8","#c8e01c","#e83b3b","#5edc74","#5ff0ef","#e8452a","#6fd8ef","#df3fb8","#e8283c","#9a50f0","#2a3fc8","#58e01c","#7fe27a","#2f8ef0","#f5a020"]},
                            "legend": null}
                }
              },
              {
                "data": {"name": "yacdots"},
                "mark": {"type": "point", "shape": "circle", "size": 330, "filled": false, "stroke": "#e8302a", "strokeWidth": 2.6, "opacity": 1},
                "encoding": {
                  "x": {"field": "v", "type": "quantitative"},
                  "y": {"field": "row", "type": "nominal"}
                }
              }
            ]
          },
          {
            "data": {"name": "yachead"},
            "mark": {"type": "point", "shape": "circle", "size": 1250, "filled": false, "stroke": "#e8302a", "strokeWidth": 2.6, "opacity": 1},
            "encoding": {
              "x": {"field": "chrom", "type": "nominal",
                    "scale": {"type": "point", "domain": ["XIV","XI","IV","XVI","VII","VIII","II","IX","XV","I","XIII","XII","V","VI","X","III","YAC"], "padding": 0.8},
                    "axis": {"orient": "top", "domain": false, "ticks": false, "labelAngle": 0, "labelFontSize": 18, "labelFontWeight": "bold", "labelPadding": 0, "offset": -24, "title": null,
                             "labelColor": {"condition": [
                               {"test": "datum.value === 'XIV'", "value": "#d957e0"},
                               {"test": "datum.value === 'XI'", "value": "#1a35e8"},
                               {"test": "datum.value === 'IV'", "value": "#c8e01c"},
                               {"test": "datum.value === 'XVI'", "value": "#e83b3b"},
                               {"test": "datum.value === 'VII'", "value": "#5edc74"},
                               {"test": "datum.value === 'VIII'", "value": "#5ff0ef"},
                               {"test": "datum.value === 'II'", "value": "#e8452a"},
                               {"test": "datum.value === 'IX'", "value": "#6fd8ef"},
                               {"test": "datum.value === 'XV'", "value": "#df3fb8"},
                               {"test": "datum.value === 'I'", "value": "#e8283c"},
                               {"test": "datum.value === 'XIII'", "value": "#9a50f0"},
                               {"test": "datum.value === 'XII'", "value": "#2a3fc8"},
                               {"test": "datum.value === 'V'", "value": "#58e01c"},
                               {"test": "datum.value === 'VI'", "value": "#7fe27a"},
                               {"test": "datum.value === 'X'", "value": "#2f8ef0"},
                               {"test": "datum.value === 'III'", "value": "#f5a020"}
                             ], "value": "#111111"}}},
              "y": {"field": "row", "type": "nominal", "scale": {"type": "point", "domain": ["header"], "padding": 0, "align": 0.065}, "axis": null}
            }
          }
        ]
      }
    ],
    "bounds": "flush",
    "spacing": 69
  },
  {
    "hconcat": [
      {
        "width": 8, "height": 10,
        "data": {"values": []},
        "mark": "point"
      },
      {
        "width": 331, "height": 257,
        "title": {"text": "B", "anchor": "start", "frame": "group", "fontSize": 28, "dx": -86, "dy": 15},
        "layer": [
          {
            "data": {"name": "left"},
            "mark": {"type": "line", "strokeWidth": 2},
            "encoding": {
              "x": {"field": "k", "type": "quantitative", "scale": {"domain": [0, 1000], "nice": false, "zero": false},
                    "axis": {"values": [0, 200, 400, 600, 800, 1000], "format": "d", "offset": 27, "tickSize": 6, "labelFontSize": 17, "labelPadding": 3, "title": "Chromosome XV (kb)", "titleFontSize": 20.5, "titlePadding": 3}},
              "y": {"field": "d", "type": "quantitative", "scale": {"domain": [0.6, 1.0], "nice": false, "zero": false},
                    "axis": {"values": [0.6, 0.7, 0.8, 0.9, 1.0], "format": ".1f", "offset": 17, "tickSize": 7, "labelFontSize": 17, "labelPadding": 2, "title": "Relative read depth", "titleFontSize": 21, "titlePadding": 12}},
              "color": {"field": "s", "type": "nominal", "scale": {"domain": ["S phase", "early G2", "late G2"], "range": ["#e8382f", "#2036e6", "#6bdc22"]},
                        "legend": {"orient": "none", "legendX": 34, "legendY": 183, "title": null, "symbolType": "stroke", "symbolSize": 1, "symbolStrokeWidth": 0, "symbolOpacity": 0, "labelOffset": -13, "labelFontSize": 16, "labelFont": "Lato", "strokeColor": "#555", "padding": 8, "rowPadding": 6,
                                   "encode": {"labels": {"update": {"fill": {"signal": "datum.value === 'S phase' ? '#e8382f' : datum.value === 'early G2' ? '#2036e6' : '#6bdc22'"}}}}}}
            }
          },
          {
            "data": {"name": "arrows"},
            "mark": {"type": "rule", "color": "#333", "strokeWidth": 1.2},
            "encoding": {
              "x": {"field": "k", "type": "quantitative"},
              "y": {"field": "d", "type": "quantitative"},
              "x2": {"field": "k2"},
              "y2": {"field": "d2"}
            }
          },
          {
            "data": {"name": "arrows"},
            "transform": [{"filter": "datum.label === 'ARS1510'"}],
            "mark": {"type": "point", "shape": "triangle-up", "filled": true, "color": "#333", "size": 35, "angle": 151, "opacity": 1},
            "encoding": {
              "x": {"field": "k2", "type": "quantitative"},
              "y": {"field": "d2", "type": "quantitative"}
            }
          },
          {
            "data": {"name": "arrows"},
            "transform": [{"filter": "datum.label === 'ARS1511'"}],
            "mark": {"type": "point", "shape": "triangle-up", "filled": true, "color": "#333", "size": 35, "angle": 298, "opacity": 1},
            "encoding": {
              "x": {"field": "k2", "type": "quantitative"},
              "y": {"field": "d2", "type": "quantitative"}
            }
          },
          {
            "data": {"name": "ars"},
            "mark": {"type": "text", "align": "left", "baseline": "middle", "fontSize": 12.5, "color": "#444"},
            "encoding": {
              "x": {"field": "k", "type": "quantitative"},
              "y": {"field": "d", "type": "quantitative"},
              "text": {"field": "label"}
            }
          }
        ]
      },
      {
        "width": 338, "height": 257,
        "resolve": {"scale": {"y": "independent"}, "axis": {"y": "independent"}},
        "layer": [
          {
            "data": {"name": "right"},
            "mark": {"type": "line", "strokeWidth": 2},
            "encoding": {
              "x": {"field": "k", "type": "quantitative", "scale": {"domain": [0, 150], "nice": false, "zero": false},
                    "axis": {"values": [0, 50, 100, 150], "offset": 27, "tickSize": 6, "labelFontSize": 17, "labelPadding": 3, "title": "YAC (kb)", "titleFontSize": 19.5, "titlePadding": 3}},
              "y": {"field": "d", "type": "quantitative", "scale": {"domain": [0.6, 1.0], "nice": false, "zero": false},
                    "axis": {"orient": "left", "values": [0.6, 0.7, 0.8, 0.9, 1.0], "offset": 13, "tickSize": -5, "labels": false, "title": null}},
              "color": {"field": "s", "type": "nominal", "scale": {"domain": ["S phase", "early G2", "late G2"], "range": ["#e8382f", "#2036e6", "#6bdc22"]}, "legend": null}
            }
          },
          {
            "data": {"values": [{"d": 0.6}]},
            "mark": {"type": "rule", "opacity": 0},
            "encoding": {
              "y": {"field": "d", "type": "quantitative", "scale": {"domain": [0.6, 1.0], "nice": false, "zero": false},
                    "axis": {"orient": "right", "offset": 45, "ticks": false, "labels": false, "title": null, "domainColor": "#8a8a8a"}}
            }
          }
        ]
      }
    ],
    "bounds": "flush",
    "spacing": 48,
    "resolve": {"scale": {"color": "independent"}, "legend": {"color": "independent"}}
  }
],
"columns": 1,
"bounds": "full",
"spacing": -10,
"resolve": {"scale": {"color": "independent"}, "legend": {"color": "independent"}}
}
